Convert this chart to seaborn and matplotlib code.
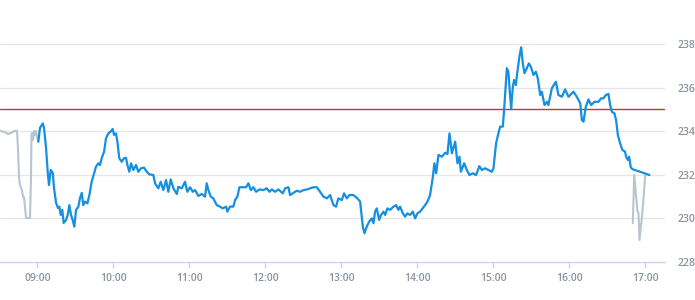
import matplotlib
matplotlib.use("Agg")
import matplotlib.pyplot as plt
from matplotlib.ticker import FixedLocator, FuncFormatter
import seaborn as sns
import pandas as pd

# ---- data (minutes since midnight, price) ----
pre_time = [510.6, 514.5, 516.9, 519.2, 522.4, 524.0, 524.8, 525.6, 526.3, 527.9,
            528.7, 529.5, 531.1, 534.2, 535.0, 535.4, 535.8, 536.6, 537.4, 538.2,
            539.0, 539.8, 540.8]
pre_price = [234.02, 233.96, 233.87, 233.92, 234.02, 234.01, 233.14, 231.85, 231.53, 231.30,
             230.98, 230.98, 230.02, 230.02, 231.76, 233.83, 233.92, 233.60, 234.01, 233.83,
             234.01, 233.73, 233.52]

day_time = [540.8, 542.1, 544.3, 545.3, 546.9, 548.2, 549.2, 550.6, 552.2, 553.2,
            554.8, 556.3, 557.4, 558.5, 559.7, 560.8, 562.7, 564.0, 565.3, 566.6,
            567.9, 569.2, 570.6, 572.4, 573.7, 575.1, 576.3, 577.7, 579.5, 581.1,
            582.9, 584.8, 586.3, 588.2, 589.5, 590.8, 592.7, 594.2, 596.1, 597.9,
            599.5, 600.6, 602.1, 603.2, 604.7, 606.6, 608.4, 610.0, 611.1, 612.6,
            614.0, 615.8, 617.9, 619.7, 621.9, 624.2, 626.4, 628.4, 631.6, 632.9,
            635.5, 637.4, 639.5, 641.6, 643.4, 645.3, 647.4, 650.1, 651.3, 654.0,
            656.6, 658.4, 660.6, 662.7, 664.5, 667.1, 669.8, 672.4, 673.7, 675.0,
            676.9, 678.9, 681.6, 684.2, 686.4, 689.0, 690.0, 692.1, 694.7, 696.1,
            697.9, 699.5, 702.2, 704.8, 706.6, 708.5, 710.5, 712.7, 715.3, 718.4,
            721.1, 723.2, 725.1, 727.7, 730.3, 733.7, 735.6, 738.2, 739.5, 741.6,
            744.8, 747.4, 750.0, 753.2, 755.3, 757.9, 760.6, 763.2, 765.8, 768.5,
            771.1, 773.7, 775.8, 777.6, 780.3, 782.1, 784.3, 786.3, 789.5, 792.6,
            794.8, 796.1, 796.9, 798.2, 800.0, 801.9, 804.0, 805.3, 806.6, 807.9,
            809.8, 811.3, 813.2, 814.5, 816.3, 818.4, 821.1, 823.2, 825.0, 826.3,
            828.5, 830.3, 832.1, 834.2, 836.4, 838.2, 840.0, 842.1, 846.1, 847.9,
            850.0, 852.2, 853.4, 854.8, 856.6, 859.3, 861.9, 863.7, 865.3, 867.2,
            869.8, 871.6, 873.2, 874.3, 876.9, 879.0, 881.1, 883.7, 886.3, 888.9,
            890.8, 893.4, 896.1, 898.7, 900.0, 902.1, 903.9, 905.3, 907.4, 908.4,
            909.8, 910.6, 911.8, 913.2, 914.0, 915.3, 916.3, 917.7, 918.9, 920.5,
            921.9, 923.2, 924.5, 926.4, 927.9, 929.5, 931.6, 933.5, 935.0, 936.9,
            938.2, 940.3, 942.2, 943.4, 946.1, 949.3, 951.3, 954.0, 956.6, 959.2,
            963.2, 965.8, 968.5, 969.8, 971.1, 972.9, 975.0, 977.1, 979.7, 982.9,
            985.0, 986.8, 988.7, 990.8, 992.1, 993.5, 995.5, 996.8, 998.2, 1000.0,
            1001.8, 1003.9, 1004.7, 1006.1, 1007.1, 1008.4, 1010.0, 1015.8, 1023.1]
day_price = [233.52, 234.15, 234.36, 234.15, 233.23, 232.14, 231.53, 232.22, 232.08, 231.39,
             230.71, 230.48, 230.54, 230.16, 230.39, 229.79, 229.93, 230.16, 230.61, 230.16,
             229.93, 229.62, 230.39, 230.54, 230.94, 231.17, 230.61, 230.77, 230.69, 231.07,
             231.68, 232.07, 232.37, 232.53, 232.45, 232.76, 233.06, 233.67, 233.90, 233.98,
             234.10, 233.83, 233.90, 233.52, 232.76, 232.60, 232.76, 232.78, 232.45, 232.14,
             232.53, 232.22, 232.45, 232.14, 232.30, 232.33, 232.14, 232.02, 231.99, 231.61,
             231.38, 231.68, 231.30, 231.76, 231.22, 231.79, 231.38, 231.12, 231.45, 231.38,
             231.68, 231.22, 231.43, 231.22, 231.30, 231.03, 231.12, 231.00, 231.61, 231.30,
             231.00, 230.92, 230.61, 230.54, 230.46, 230.54, 230.31, 230.54, 230.54, 230.84,
             231.00, 231.43, 231.43, 231.43, 231.61, 231.30, 231.43, 231.22, 231.33, 231.30,
             231.38, 231.22, 231.33, 231.22, 231.33, 231.15, 231.38, 231.43, 231.07, 231.15,
             231.27, 231.22, 231.30, 231.33, 231.38, 231.43, 231.43, 231.22, 231.00, 230.92,
             231.07, 230.61, 230.54, 230.92, 230.84, 231.15, 230.92, 231.07, 231.07, 230.92,
             230.77, 230.08, 229.62, 229.32, 229.62, 229.85, 230.00, 229.78, 230.31, 230.46,
             229.93, 230.16, 230.31, 230.16, 230.46, 230.39, 230.54, 230.61, 230.39, 230.54,
             230.23, 230.08, 230.23, 230.16, 230.31, 230.00, 230.23, 230.31, 230.61, 230.77,
             231.07, 231.91, 232.53, 232.07, 232.91, 232.83, 233.01, 232.95, 233.90, 232.99,
             233.52, 232.53, 232.83, 232.14, 232.53, 232.22, 231.99, 232.07, 231.99, 232.40,
             232.22, 232.30, 232.22, 232.14, 232.30, 233.45, 233.90, 234.21, 234.21, 234.97,
             236.20, 236.89, 236.73, 235.58, 235.05, 236.04, 236.35, 236.12, 236.73, 237.42,
             237.85, 237.11, 236.66, 236.89, 237.11, 236.96, 236.58, 236.73, 236.43, 235.66,
             235.81, 235.20, 235.35, 235.20, 235.97, 236.27, 235.66, 235.58, 235.92, 235.58,
             235.81, 235.58, 235.28, 234.51, 234.44, 235.12, 235.46, 235.20, 235.35, 235.35,
             235.51, 235.51, 235.66, 235.71, 235.20, 234.89, 234.82, 234.51, 233.83, 233.44,
             233.14, 233.06, 232.83, 232.68, 232.83, 232.34, 232.25, 232.14, 231.99]

post_time = [1010.0, 1011.1, 1013.7, 1014.5, 1015.3, 1017.2, 1018.4, 1019.8]
post_price = [229.78, 231.99, 230.31, 230.23, 229.01, 230.08, 230.84, 231.99]

reference_price = 235.0
hour_ticks = [540, 600, 660, 720, 780, 840, 900, 960, 1020]
y_ticks = [228, 230, 232, 234, 236, 238]

# ---- plotting ----
sns.set_theme(style="white")
plt.rcParams['font.family'] = ['Open Sans', 'DejaVu Sans']

fig = plt.figure(figsize=(6.95, 3.0), dpi=100)
ax = fig.add_axes([0.0, 0.1267, 0.957, 0.8733])

grid_c = "#e6e6e6"
for v in y_ticks[1:]:
    ax.axhline(v, color=grid_c, lw=0.9, zorder=0)

ax.axhline(reference_price, color="#c0392b", lw=1.0, zorder=1)

pre_df = pd.DataFrame({"t": pre_time, "p": pre_price})
day_df = pd.DataFrame({"t": day_time, "p": day_price})
post_df = pd.DataFrame({"t": post_time, "p": post_price})

sns.lineplot(data=pre_df, x="t", y="p", ax=ax, color="#b9c5cd", lw=1.5,
             estimator=None, sort=False, zorder=2)
sns.lineplot(data=post_df, x="t", y="p", ax=ax, color="#b9c5cd", lw=1.5,
             estimator=None, sort=False, zorder=2)
sns.lineplot(data=day_df, x="t", y="p", ax=ax, color="#158fe0", lw=1.6,
             estimator=None, sort=False, zorder=3)

ax.set_xlim(510.55, 1035.5)
ax.set_ylim(228, 240.02)

ax.xaxis.set_major_locator(FixedLocator(hour_ticks))
ax.xaxis.set_major_formatter(FuncFormatter(lambda v, p: f"{int(v)//60:02d}:{int(v)%60:02d}"))
ax.yaxis.set_major_locator(FixedLocator(y_ticks))
ax.yaxis.tick_right()

for s in ["top", "left", "right"]:
    ax.spines[s].set_visible(False)
ax.spines["bottom"].set_color("#ccd6eb")
ax.spines["bottom"].set_linewidth(1.0)

ax.tick_params(axis="x", which="major", length=4, width=1, color="#ccd6eb",
               labelsize=7.5, labelcolor="#8a949e", pad=4, bottom=True)
ax.tick_params(axis="y", which="major", length=0, labelsize=7.5,
               labelcolor="#8a949e", pad=9, right=True, left=False)
for lab in ax.get_xticklabels() + ax.get_yticklabels():
    lab.set_fontweight("semibold")

ax.set_xlabel("")
ax.set_ylabel("")
ax.grid(False)

fig.savefig("out.png", dpi=100)
